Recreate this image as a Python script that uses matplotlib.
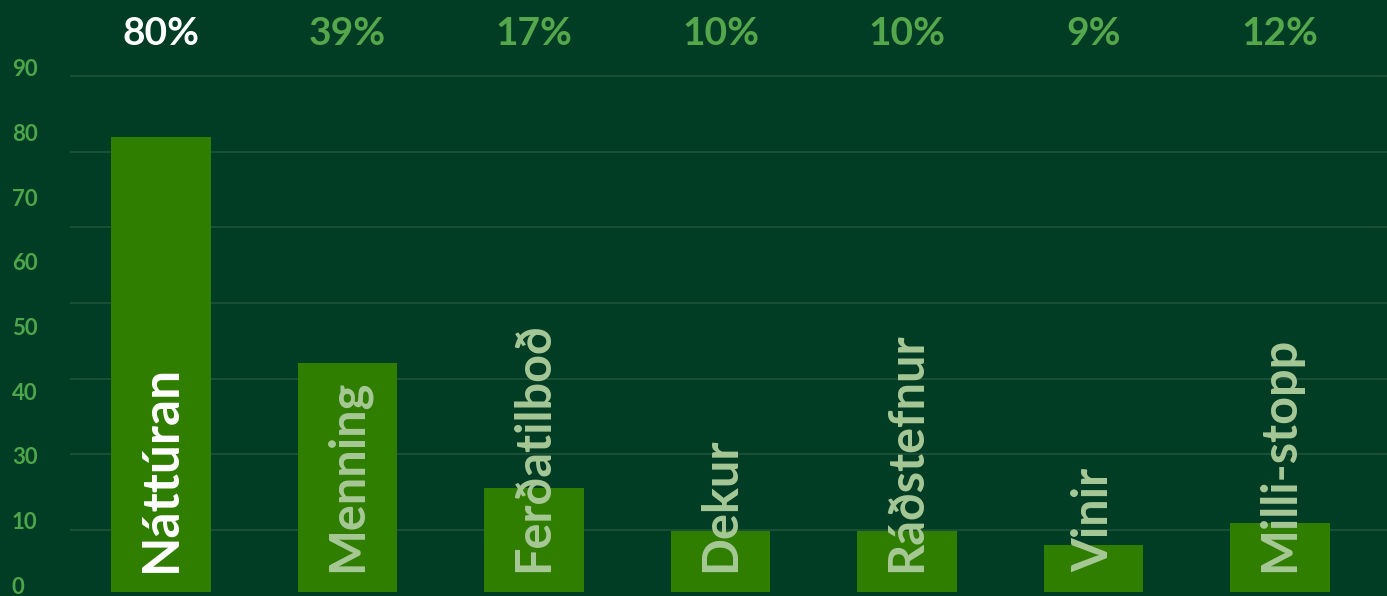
import matplotlib
matplotlib.use('Agg')
import matplotlib.pyplot as plt
import numpy as np

# Data
categories = ['Náttúran', 'Menning', 'Ferðatilboð', 'Dekur', 'Ráðstefnur', 'Vinir', 'Milli-stopp']
values = [80.0, 40.2, 18.2, 10.8, 10.8, 8.3, 12.1]
pct_labels = ['80%', '39%', '17%', '10%', '10%', '9%', '12%']
ytick_labels = ['0', '10', '30', '40', '50', '60', '70', '80', '90']

# Colours
bg = '#013c25'
bar_col = '#2f7e00'
grid_col = '#1c5239'
tick_col = '#4ea64a'
name_col = '#a6c896'
pct_col = '#55a74c'

plt.rcParams['font.family'] = ['Lato', 'DejaVu Sans']

fig = plt.figure(figsize=(13.87, 5.96), dpi=100)
fig.patch.set_facecolor(bg)

ax = fig.add_axes([70 / 1387, 4 / 596, 1317 / 1387, 592 / 596])
ax.set_facecolor(bg)
x = np.arange(len(categories))
ax.bar(x, values, width=0.535, color=bar_col, zorder=2)
ax.set_xlim(-0.488, 6.574)
ax.set_ylim(0, 104.1)

# gridlines (evenly spaced, not at the labelled values)
grid_step = 13.3
ax.set_yticks([90.7 - k * grid_step for k in range(7)])
ax.yaxis.grid(True, color=grid_col, linewidth=1.3, zorder=0)
ax.tick_params(left=False, bottom=False, labelleft=False, labelbottom=False)
for s in ax.spines.values():
    s.set_visible(False)

for i, (name, pct) in enumerate(zip(categories, pct_labels)):
    first = i == 0
    ax.text(i, 98.2, pct, ha='center', va='center', fontsize=28,
            fontweight='bold', color='white' if first else pct_col)
    ax.text(i, 3.5, name, ha='center', va='bottom', rotation=90,
            fontsize=37 if first else 35, fontweight='bold',
            color='white' if first else name_col, zorder=3)

# y labels sit on their own even spacing
lab = fig.add_axes([0, 0, 1, 1], facecolor='none')
lab.set_xlim(0, 1387)
lab.set_ylim(596, 0)
lab.axis('off')
ypos = np.linspace(587, 70, len(ytick_labels))
for t, yy in zip(ytick_labels, ypos):
    lab.text(12, yy, t, ha='left', va='center', fontsize=16,
             fontweight='bold', color=tick_col)

fig.savefig('out.png', dpi=100, facecolor=bg)
